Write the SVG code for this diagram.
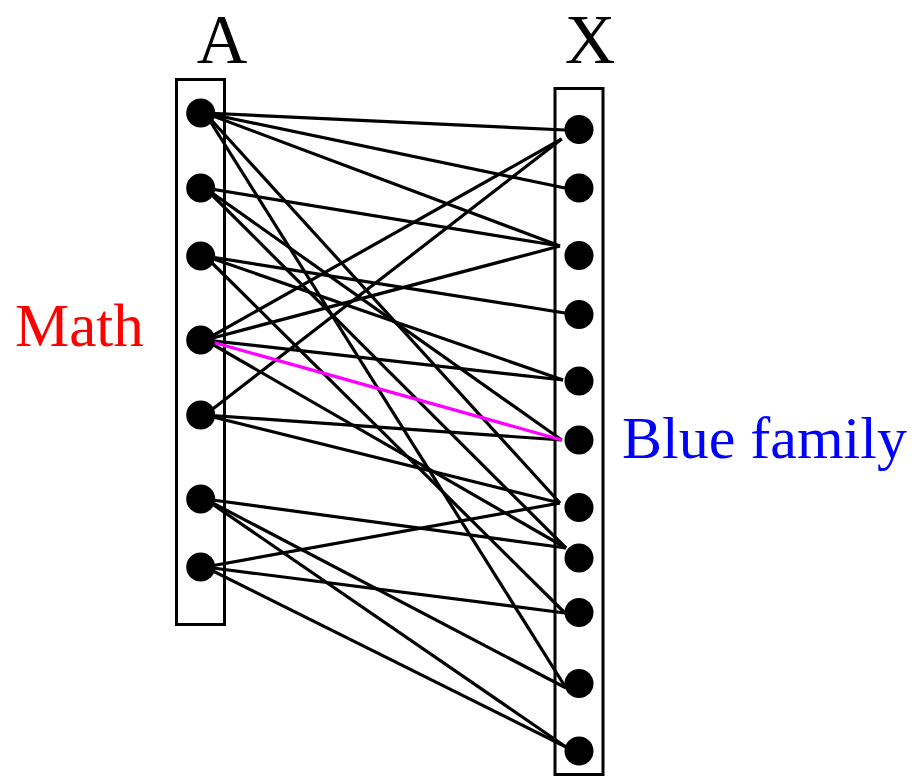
<svg xmlns="http://www.w3.org/2000/svg" width="913" height="778" viewBox="0 0 913 778">
<style>
.box{fill:none;stroke:#000;stroke-width:3}
.dot{fill:#000}
.e{stroke:#000;stroke-width:3.2;fill:none}
.m{stroke:#ff00ff;stroke-width:3.2;fill:none}
.lbl{font-family:"Liberation Serif","Times New Roman",serif}
</style>
<rect width="913" height="778" fill="#fff"/>
<text class="lbl" x="222" y="63" font-size="70" text-anchor="middle">A</text>
<text class="lbl" x="590" y="63" font-size="70" text-anchor="middle">X</text>
<text class="lbl" x="15" y="346" font-size="61" fill="#ff0000">Math</text>
<text class="lbl" x="622" y="458" font-size="60" fill="#0000ff">Blue family</text>
<rect class="box" x="176.5" y="79.5" width="48" height="545"/>
<rect class="box" x="555" y="88.5" width="48" height="686"/>
<g id="connectors">
<line class="e" x1="205" y1="113" x2="565" y2="130"/>
<line class="e" x1="205" y1="113" x2="565" y2="188"/>
<line class="e" x1="205" y1="113" x2="560" y2="246"/>
<line class="e" x1="205" y1="113" x2="560" y2="503"/>
<line class="e" x1="205" y1="113" x2="566" y2="688"/>
<line class="e" x1="205" y1="188" x2="560" y2="246"/>
<line class="e" x1="205" y1="188" x2="561.7" y2="440"/>
<line class="e" x1="205" y1="188" x2="566" y2="548"/>
<line class="e" x1="205" y1="256" x2="565" y2="313"/>
<line class="e" x1="205" y1="256" x2="563" y2="380"/>
<line class="e" x1="205" y1="256" x2="565" y2="613"/>
<line class="e" x1="205" y1="340" x2="561.7" y2="139"/>
<line class="e" x1="205" y1="340" x2="560" y2="246"/>
<line class="e" x1="205" y1="340" x2="563" y2="380"/>
<line class="e" x1="205" y1="340" x2="566" y2="548"/>
<line class="e" x1="205" y1="415" x2="561.7" y2="139"/>
<line class="e" x1="205" y1="415" x2="561.7" y2="440"/>
<line class="e" x1="205" y1="415" x2="560" y2="503"/>
<line class="e" x1="205" y1="499" x2="566" y2="548"/>
<line class="e" x1="205" y1="499" x2="566" y2="688"/>
<line class="e" x1="205" y1="499" x2="566" y2="747"/>
<line class="e" x1="205" y1="567" x2="560" y2="503"/>
<line class="e" x1="205" y1="567" x2="565" y2="613"/>
<line class="e" x1="205" y1="567" x2="566" y2="747"/>
<line class="m" x1="205" y1="340" x2="561.7" y2="440"/>
</g>
<g id="A1"><circle class="dot" cx="200.7" cy="113" r="14.5"/></g>
<g id="A2"><circle class="dot" cx="200.7" cy="188" r="14.5"/></g>
<g id="A3"><circle class="dot" cx="200.7" cy="256" r="14.5"/></g>
<g id="A4"><circle class="dot" cx="200.7" cy="340" r="14.5"/></g>
<g id="A5"><circle class="dot" cx="200.7" cy="415" r="14.5"/></g>
<g id="A6"><circle class="dot" cx="200.7" cy="499" r="14.5"/></g>
<g id="A7"><circle class="dot" cx="200.7" cy="567" r="14.5"/></g>
<g id="X1"><circle class="dot" cx="579" cy="129.5" r="14.5"/></g>
<g id="X2"><circle class="dot" cx="579" cy="188" r="14.5"/></g>
<g id="X3"><circle class="dot" cx="579" cy="255.5" r="14.5"/></g>
<g id="X4"><circle class="dot" cx="579" cy="314.5" r="14.5"/></g>
<g id="X5"><circle class="dot" cx="579" cy="381" r="14.5"/></g>
<g id="X6"><circle class="dot" cx="579" cy="440" r="14.5"/></g>
<g id="X7"><circle class="dot" cx="579" cy="507.5" r="14.5"/></g>
<g id="X8"><circle class="dot" cx="579" cy="558" r="14.5"/></g>
<g id="X9"><circle class="dot" cx="579" cy="612.5" r="14.5"/></g>
<g id="X10"><circle class="dot" cx="579" cy="683.5" r="14.5"/></g>
<g id="X11"><circle class="dot" cx="579" cy="751" r="14.5"/></g>
</svg>
